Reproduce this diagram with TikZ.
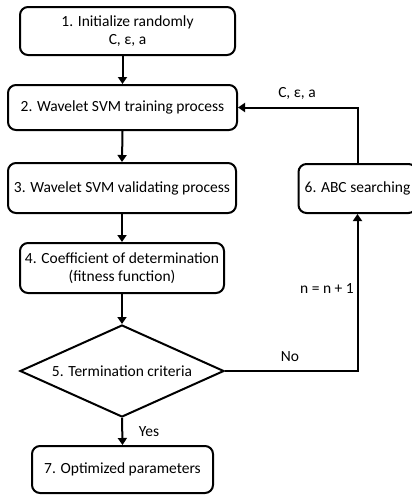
\documentclass[tikz,border=0pt]{standalone}
\usepackage{fontspec}
\setmainfont{Carlito}
\usetikzlibrary{shapes.geometric,arrows.meta}
\begin{document}
\begin{tikzpicture}[x=1pt,y=-1pt,
  box/.style={draw,line width=2pt,rounded corners=8pt,inner sep=0pt,align=center,font=\fontsize{15.5}{18}\selectfont},
  dec/.style={draw,diamond,line width=2pt,inner sep=0pt,aspect=2.2,font=\fontsize{15.5}{18}\selectfont},
  conn/.style={line width=2pt,-{Triangle[length=7pt,width=9pt]}},
  lbl/.style={font=\fontsize{15.5}{18}\selectfont,inner sep=0pt}]
\useasboundingbox (0,0) rectangle (412,496);
\clip (0,0) rectangle (412,496);
\node[box,minimum width=215pt,minimum height=48pt] (b1) at (127.5,31) {1. Initialize randomly\\C, ε, a};
\node[box,minimum width=229pt,minimum height=45pt] (b2) at (122.5,107.5) {2. Wavelet SVM training process};
\node[box,minimum width=228pt,minimum height=50pt] (b3) at (122,188) {3. Wavelet SVM validating process};
\node[box,minimum width=204pt,minimum height=50pt] (b4) at (122,268) {4. Coefficient of determination\\(fitness function)};
\node[dec,minimum width=204pt,minimum height=92pt] (d5) at (122,371) {5. Termination criteria};
\node[box,minimum width=181pt,minimum height=47pt] (b7) at (122.5,469.5) {7. Optimized parameters};
\node[box,minimum width=118pt,minimum height=49pt] (b6) at (357.5,188.5) {6. ABC searching};
\draw[conn] (b2.north |- b1.south) -- (b2.north);
\draw[conn] (b2.south) -- (b3.north);
\draw[conn] (b3.south) -- (b4.north);
\draw[conn] (b4.south) -- (d5.north);
\draw[conn] (d5.south) -- (b7.north);
\draw[conn] (d5.east) -| (b6.south);
\draw[conn] (b6.north) |- (b2.east);
\node[lbl] (yes) at (149,432) {Yes};
\node[lbl] (no) at (290,357) {No};
\node[lbl] (inc) at (327,289) {n = n + 1};
\node[lbl] (cea) at (297,93) {C, ε, a};
\end{tikzpicture}
\end{document}
